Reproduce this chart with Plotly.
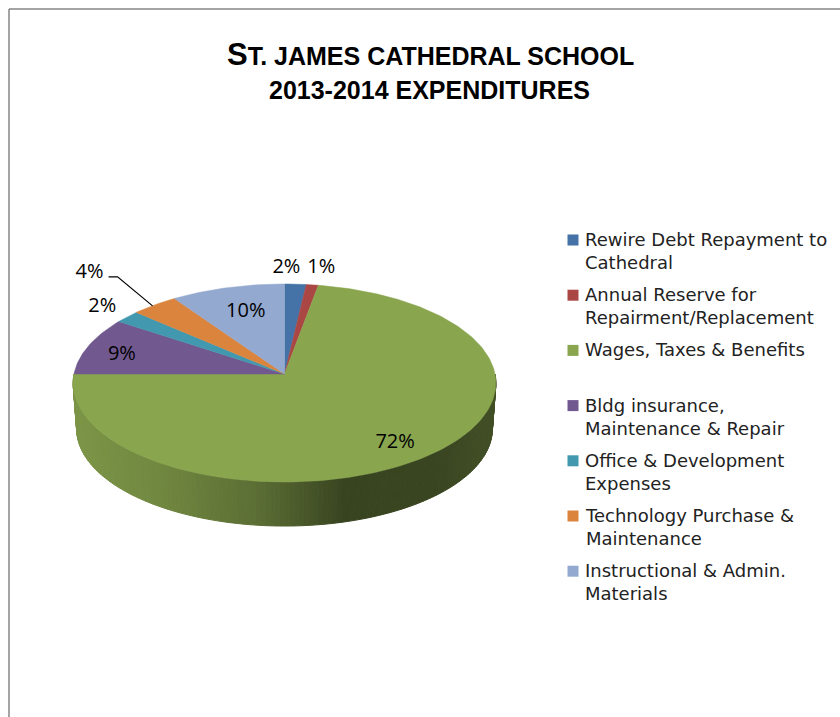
import math
import plotly.graph_objects as go

# ---- data ----
TITLE_LINE_1 = "ST. JAMES CATHEDRAL SCHOOL"
TITLE_LINE_2 = "2013-2014 EXPENDITURES"
categories = [
    "Rewire Debt Repayment to<br>Cathedral",
    "Annual Reserve for<br>Repairment/Replacement",
    "Wages, Taxes & Benefits",
    "Bldg insurance,<br>Maintenance & Repair",
    "Office & Development<br>Expenses",
    "Technology Purchase &<br>Maintenance",
    "Instructional & Admin.<br>Materials",
]
values = [1.8, 1.0, 72.2, 9.49, 2.1, 3.9, 9.51]

# ---- style ----
colors = ["#4572A7", "#AA4643", "#89A54E", "#71588F", "#4198AF", "#DB843D", "#93A9CF"]
# radius factor and pixel offset of each percent label, from its slice's mid angle
label_pos = [(1.0, -9, -16), (1.0, 9, -17), (0.82, -7, 4), (0.80, -5, 4),
             (1.0, -25, -10), (1.0, -65, -32), (0.68, 1, -2)]
CX, CY, RX, RY = 284.5, 374, 210.5, 98.18  # top face, hub and half axes
PERSP = 0.0909                             # perspective of the tilted disc
BX, BY, BRX, BRY = 284.5, 420, 207, 96.4   # bottom rim
FONT = "DejaVu Sans"
LABEL_FONT = "Open Sans"
LEG_MARK_X, LEG_TEXT_X, LEG_Y0, LEG_PITCH = 573, 584, 240, 55.2


def rim(frac, r=1.0):
    t = 2 * math.pi * frac
    u, v = r * math.sin(t), r * math.cos(t)
    d = 1 + PERSP * v
    return CX + RX * u / d, CY - RY * v / d


def bottom(frac):
    t = 2 * math.pi * frac
    u, v = math.sin(t), math.cos(t)
    d = 1 + PERSP * v
    return BX + BRX * u / d, BY - BRY * v / d


def shade(x, base):
    stops = [(75, 0.90), (160, 0.82), (260, 0.66), (345, 0.41), (440, 0.42), (495, 0.48)]
    f = stops[-1][1]
    for (x0, f0), (x1, f1) in zip(stops, stops[1:]):
        if x0 <= x <= x1:
            f = f0 + (f1 - f0) * (x - x0) / (x1 - x0)
            break
    if x < stops[0][0]:
        f = stops[0][1]
    rgb = [int(base[i:i + 2], 16) for i in (1, 3, 5)]
    return "rgb(%d,%d,%d)" % tuple(round(v * f) for v in rgb)


total = sum(values)
fig = go.Figure()
cum = 0.0
edges = []
for v in values:
    edges.append((cum / total, (cum + v) / total))
    cum += v

# side wall, front half only
for (a, b), col in zip(edges, colors):
    lo, hi = max(a, 0.25), min(b, 0.75)
    if hi <= lo:
        continue
    n = max(2, int((hi - lo) * 300))
    for k in range(n):
        f0 = lo + (hi - lo) * k / n
        f1 = lo + (hi - lo) * (k + 1) / n
        p = [rim(f0), rim(f1), bottom(f1), bottom(f0), rim(f0)]
        c = shade((p[0][0] + p[1][0]) / 2, col)
        fig.add_trace(go.Scatter(x=[q[0] for q in p], y=[q[1] for q in p], mode="lines",
                                 fill="toself", fillcolor=c, line=dict(color=c, width=1),
                                 hoverinfo="skip", showlegend=False))

# top face
for (a, b), col, name in zip(edges, colors, categories):
    n = max(4, int((b - a) * 360))
    pts = [(CX, CY)] + [rim(a + (b - a) * k / n) for k in range(n + 1)] + [(CX, CY)]
    fig.add_trace(go.Scatter(x=[q[0] for q in pts], y=[q[1] for q in pts], mode="lines",
                             fill="toself", fillcolor=col, line=dict(color=col, width=0.5),
                             name=name.replace("<br>", " "), hoverinfo="name", showlegend=False))

# percent labels
lx, ly, lt = [], [], []
for (a, b), v, (r, dx, dy) in zip(edges, values, label_pos):
    x, y = rim((a + b) / 2, r)
    lx.append(x + dx)
    ly.append(y + dy)
    lt.append("%d%%" % round(v / total * 100))
fig.add_trace(go.Scatter(x=lx, y=ly, text=lt, mode="text", hoverinfo="skip", showlegend=False,
                         textfont=dict(family=LABEL_FONT, size=20, color="#000000")))

# leader line for the technology slice
tech = 5
tx, ty = rim((edges[tech][0] + edges[tech][1]) / 2)
fig.add_trace(go.Scatter(x=[lx[tech] + 19, lx[tech] + 28, tx - 2], y=[ly[tech] + 4, ly[tech] + 4, ty + 1],
                         mode="lines", line=dict(color="#000000", width=1.2), hoverinfo="skip", showlegend=False))

# key: one square and one text block per category
leg_y = [LEG_Y0 + LEG_PITCH * i for i in range(len(categories))]
fig.add_trace(go.Scatter(x=[LEG_MARK_X] * len(categories), y=leg_y, mode="markers", hoverinfo="skip",
                         showlegend=False, marker=dict(symbol="square", size=11, color=colors)))
notes = [dict(x=LEG_TEXT_X, y=y - 12, xref="x", yref="y", xanchor="left", yanchor="top", align="left",
              showarrow=False, text=name, borderpad=0, font=dict(family=FONT, size=18, color="#222222"))
         for name, y in zip(categories, leg_y)]

# title, the leading capital larger as in small caps
notes.append(dict(xref="x", yref="y", x=430, y=54, xanchor="center", yanchor="middle", showarrow=False,
                  font=dict(family="Liberation Sans", size=25, color="#000000"),
                  text="<b><span style='font-size:31px'>%s</span>%s</b>" % (TITLE_LINE_1[0], TITLE_LINE_1[1:])))
notes.append(dict(xref="x", yref="y", x=429, y=90, xanchor="center", yanchor="middle", showarrow=False,
                  font=dict(family="Liberation Sans", size=25, color="#000000"),
                  text="<b>%s</b>" % TITLE_LINE_2))

fig.update_layout(
    width=840, height=717, margin=dict(l=0, r=0, t=0, b=0),
    paper_bgcolor="white", plot_bgcolor="white", showlegend=False,
    xaxis=dict(range=[0, 840], visible=False, fixedrange=True),
    yaxis=dict(range=[717, 0], visible=False, fixedrange=True),
    shapes=[dict(type="line", xref="paper", yref="paper", x0=9 / 840, x1=1, y0=1 - 9 / 717, y1=1 - 9 / 717,
                 line=dict(color="#868686", width=1.5)),
            dict(type="line", xref="paper", yref="paper", x0=9 / 840, x1=9 / 840, y0=0, y1=1 - 9 / 717,
                 line=dict(color="#868686", width=1.5))],
    annotations=notes,
)
fig.write_html("out.html", config=dict(displayModeBar=False),
               post_script="document.body.style.margin='0';document.body.style.overflow='hidden';")
